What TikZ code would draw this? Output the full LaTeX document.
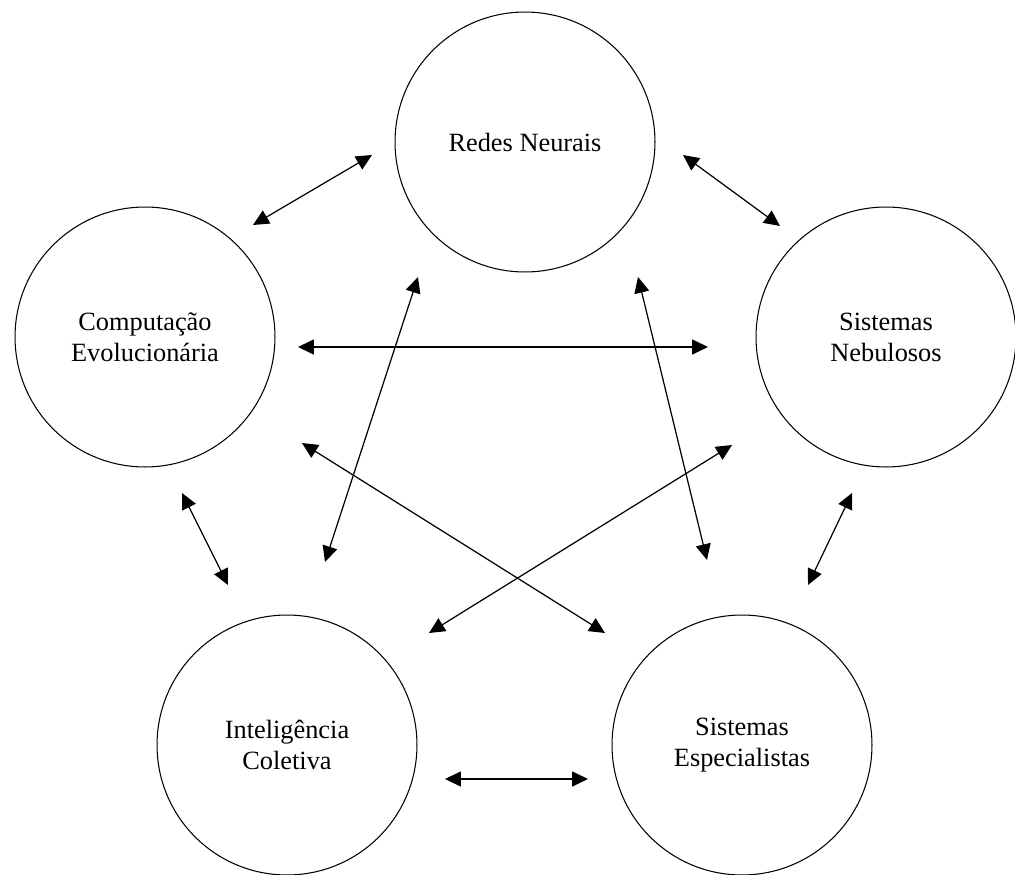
\documentclass[tikz,border=0pt]{standalone}
\usepackage{fontspec}
\setmainfont{Liberation Serif}
\usetikzlibrary{arrows.meta}
\tikzset{
    area/.style={draw, circle, line width=0.6pt, minimum size=5.2cm, inner sep=0pt,
        align=center, font=\fontsize{15}{17.6}\selectfont},
    link/.style={{Triangle[length=9pt,width=8.5pt]}-{Triangle[length=9pt,width=8.5pt]}, line width=0.7pt},
}
\begin{document}
\begin{tikzpicture}[x=0.02cm,y=-0.02cm]
    \useasboundingbox (0,0) rectangle (1015,875);
    \node[area] (rn) at (525,142) {Redes Neurais};
    \node[area] (ce) at (145,337) {Computação\\Evolucionária};
    \node[area] (sn) at (886,337) {Sistemas\\Nebulosos};
    \node[area] (ic) at (287,745) {Inteligência\\Coletiva};
    \node[area] (se) at (742,745) {Sistemas\\Especialistas};
    % ends of the arrows
    \coordinate (rnce1) at (372,155); \coordinate (rnce2) at (253,225);
    \coordinate (rnsn1) at (683,155); \coordinate (rnsn2) at (780,226);
    \coordinate (cesn1) at (298,347); \coordinate (cesn2) at (708,347);
    \coordinate (rnic1) at (418,277); \coordinate (rnic2) at (325,562);
    \coordinate (rnse1) at (638,277); \coordinate (rnse2) at (707,560);
    \coordinate (cese1) at (302,443); \coordinate (cese2) at (605,633);
    \coordinate (snic1) at (732,445); \coordinate (snic2) at (429,633);
    \coordinate (ceic1) at (182,493); \coordinate (ceic2) at (228,585);
    \coordinate (snse1) at (852,493); \coordinate (snse2) at (808,585);
    \coordinate (icse1) at (445,779); \coordinate (icse2) at (588,779);
    \draw[link] (rnce1) -- (rnce2);
    \draw[link] (rnsn1) -- (rnsn2);
    \draw[link] (cesn1) -- (cesn2);
    \draw[link] (rnic1) -- (rnic2);
    \draw[link] (rnse1) -- (rnse2);
    \draw[link] (cese1) -- (cese2);
    \draw[link] (snic1) -- (snic2);
    \draw[link] (ceic1) -- (ceic2);
    \draw[link] (snse1) -- (snse2);
    \draw[link] (icse1) -- (icse2);
\end{tikzpicture}
\end{document}
